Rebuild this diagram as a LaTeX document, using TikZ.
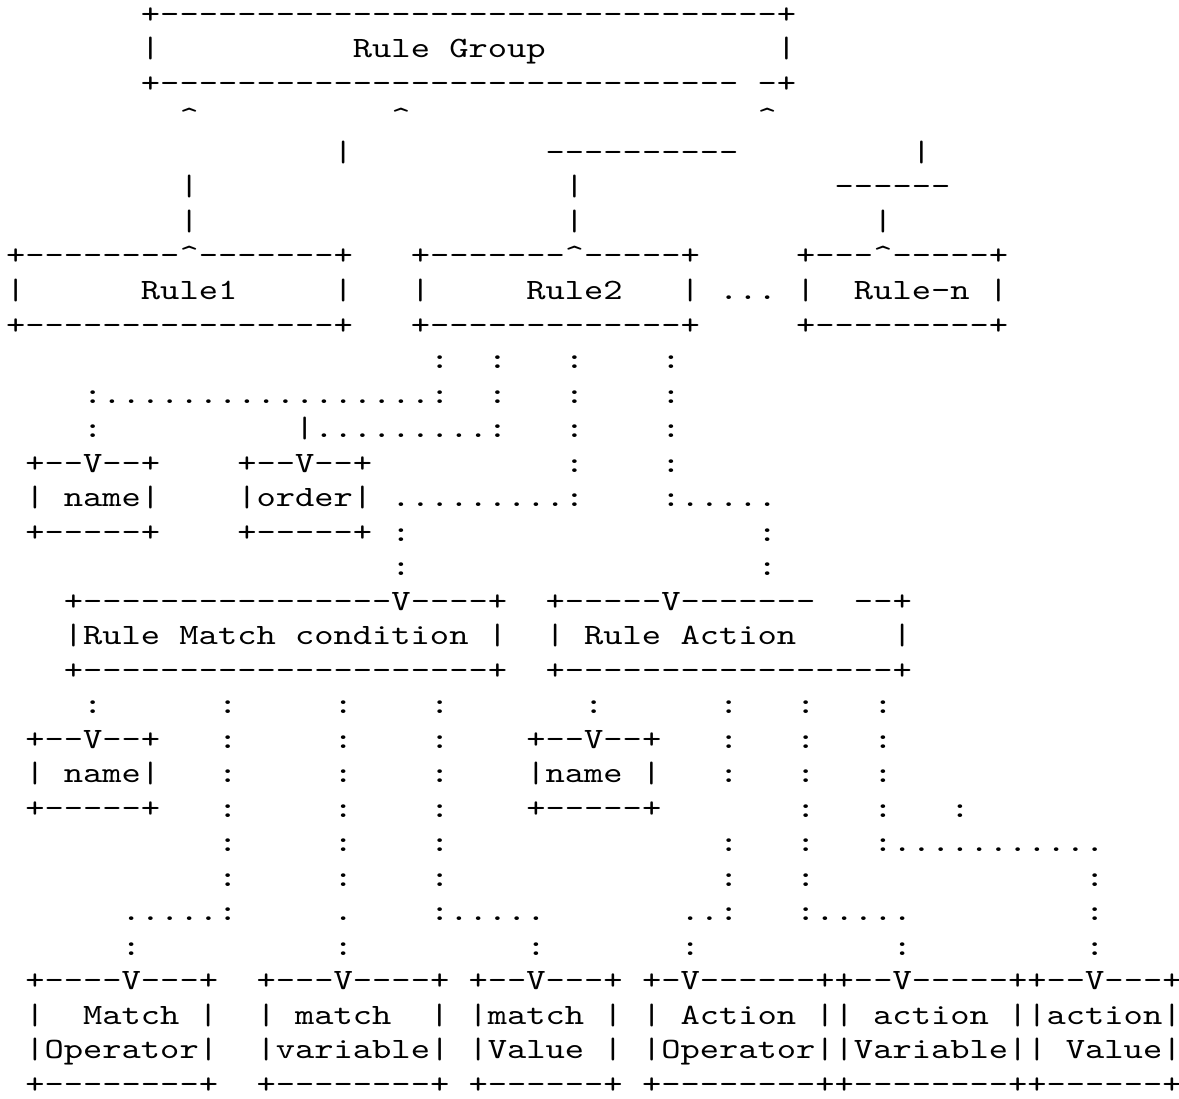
\documentclass[tikz,border=0pt]{standalone}
\usepackage{fontspec}
\usepackage{graphicx}
\setmonofont{lmmono10-regular.otf}

\newlength{\chw}
\newcommand{\asciifont}{\ttfamily\fontsize{14.74pt}{17pt}\selectfont}
% one run of characters: name, column, row, text
\newcommand{\seg}[4]{\node[ascii] (#1) at (#2,#3) {\scalebox{\sx}[1]{#4}};}

\tikzset{ascii/.style={anchor=base west, inner sep=0pt, outer sep=0pt, font=\asciifont}}

\AtBeginDocument{%
  \settowidth{\chw}{\asciifont M}%
  \pgfmathsetmacro{\sx}{9.635/\chw}%
  \global\let\sx\sx}

\begin{document}
\begin{tikzpicture}[x=9.635pt,y=-17.26pt]
  \useasboundingbox (-0.315,0.325) rectangle (60.866,32.136);

  % rule group
  \seg{gtop}{7}{1}{+--------------------------------+}
  \seg{gl}{7}{2}{|}
  \seg{group}{18}{2}{Rule Group}
  \seg{gr}{40}{2}{|}
  \seg{gbot}{7}{3}{+------------------------------}
  \seg{gbotr}{39}{3}{-+}

  % links up to the group
  \foreach \c in {9,20,39} {\seg{up\c}{\c}{4}{\textasciicircum}}
  \seg{v5a}{17}{5}{|}
  \seg{h5}{28}{5}{----------}
  \seg{v5b}{47}{5}{|}
  \seg{v6a}{9}{6}{|}
  \seg{v6b}{29}{6}{|}
  \seg{h6}{43}{6}{------}
  \seg{v7a}{9}{7}{|}
  \seg{v7b}{29}{7}{|}
  \seg{v7c}{45}{7}{|}

  % rules
  \seg{r1top}{0}{8}{+--------\textasciicircum-------+}
  \seg{r2top}{21}{8}{+-------\textasciicircum-----+}
  \seg{rntop}{41}{8}{+---\textasciicircum-----+}
  \seg{r1l}{0}{9}{|}
  \seg{rule1}{7}{9}{Rule1}
  \seg{r1r}{17}{9}{|}
  \seg{r2l}{21}{9}{|}
  \seg{rule2}{27}{9}{Rule2}
  \seg{r2r}{35}{9}{|}
  \seg{more}{37}{9}{...}
  \seg{rnl}{41}{9}{|}
  \seg{rulen}{44}{9}{Rule-n}
  \seg{rnr}{51}{9}{|}
  \seg{r1bot}{0}{10}{+----------------+}
  \seg{r2bot}{21}{10}{+-------------+}
  \seg{rnbot}{41}{10}{+---------+}

  % dotted links below Rule2
  \foreach \c in {22,25,29,34} {\seg{k11-\c}{\c}{11}{:}}
  \seg{d12}{4}{12}{:.................:}
  \foreach \c in {25,29,34} {\seg{k12-\c}{\c}{12}{:}}
  \seg{k13-4}{4}{13}{:}
  \seg{d13}{15}{13}{|.........:}
  \foreach \c in {29,34} {\seg{k13-\c}{\c}{13}{:}}
  \foreach \c in {29,34} {\seg{k14-\c}{\c}{14}{:}}

  % name, order
  \seg{nm1top}{1}{14}{+--V--+}
  \seg{ordtop}{12}{14}{+--V--+}
  \seg{nm1}{1}{15}{| name|}
  \seg{order}{12}{15}{|order|}
  \seg{d15a}{20}{15}{.........:}
  \seg{d15b}{34}{15}{:.....}
  \seg{nm1bot}{1}{16}{+-----+}
  \seg{ordbot}{12}{16}{+-----+}
  \foreach \c in {20,39} {\seg{k16-\c}{\c}{16}{:}}
  \foreach \c in {20,39} {\seg{k17-\c}{\c}{17}{:}}

  % match condition, action
  \seg{mctop}{3}{18}{+----------------V----+}
  \seg{ratop}{28}{18}{+-----V-------}
  \seg{ratopr}{44}{18}{--+}
  \seg{match}{3}{19}{|Rule Match condition |}
  \seg{action}{28}{19}{| Rule Action}
  \seg{rar}{46}{19}{|}
  \seg{mcbot}{3}{20}{+---------------------+}
  \seg{rabot}{28}{20}{+-----------------+}

  % dotted links below them
  \foreach \c in {4,11,17,22,30,37,41,45} {\seg{k21-\c}{\c}{21}{:}}
  \seg{nm2top}{1}{22}{+--V--+}
  \seg{nm3top}{27}{22}{+--V--+}
  \foreach \c in {11,17,22,37,41,45} {\seg{k22-\c}{\c}{22}{:}}
  \seg{nm2}{1}{23}{| name|}
  \seg{nm3}{27}{23}{|name |}
  \foreach \c in {11,17,22,37,41,45} {\seg{k23-\c}{\c}{23}{:}}
  \seg{nm2bot}{1}{24}{+-----+}
  \seg{nm3bot}{27}{24}{+-----+}
  \foreach \c in {11,17,22,41,45,49} {\seg{k24-\c}{\c}{24}{:}}
  \foreach \c in {11,17,22,37,41} {\seg{k25-\c}{\c}{25}{:}}
  \seg{d25}{45}{25}{:...........}
  \foreach \c in {11,17,22,37,41,56} {\seg{k26-\c}{\c}{26}{:}}
  \seg{d27a}{6}{27}{.....:}
  \seg{d27b}{17}{27}{.}
  \seg{d27c}{22}{27}{:.....}
  \seg{d27d}{35}{27}{..:}
  \seg{d27e}{41}{27}{:.....}
  \seg{k27-56}{56}{27}{:}
  \foreach \c in {6,17,27,35,46,56} {\seg{k28-\c}{\c}{28}{:}}

  % operators, variables, values
  \seg{moptop}{1}{29}{+----V---+}
  \seg{mvartop}{13}{29}{+---V----+}
  \seg{mvaltop}{24}{29}{+--V---+}
  \seg{acttop}{33}{29}{+-V------++--V-----++--V---+}
  \seg{mop1}{1}{30}{|~~Match~|}
  \seg{mvar1}{13}{30}{|~match~~|}
  \seg{mval1}{24}{30}{|match~|}
  \seg{act1}{33}{30}{|~Action~||~action~||action|}
  \seg{mop2}{1}{31}{|Operator|}
  \seg{mvar2}{13}{31}{|variable|}
  \seg{mval2}{24}{31}{|Value~|}
  \seg{act2}{33}{31}{|Operator||Variable||~Value|}
  \seg{mopbot}{1}{32}{+--------+}
  \seg{mvarbot}{13}{32}{+--------+}
  \seg{mvalbot}{24}{32}{+------+}
  \seg{actbot}{33}{32}{+--------++--------++------+}
\end{tikzpicture}
\end{document}
